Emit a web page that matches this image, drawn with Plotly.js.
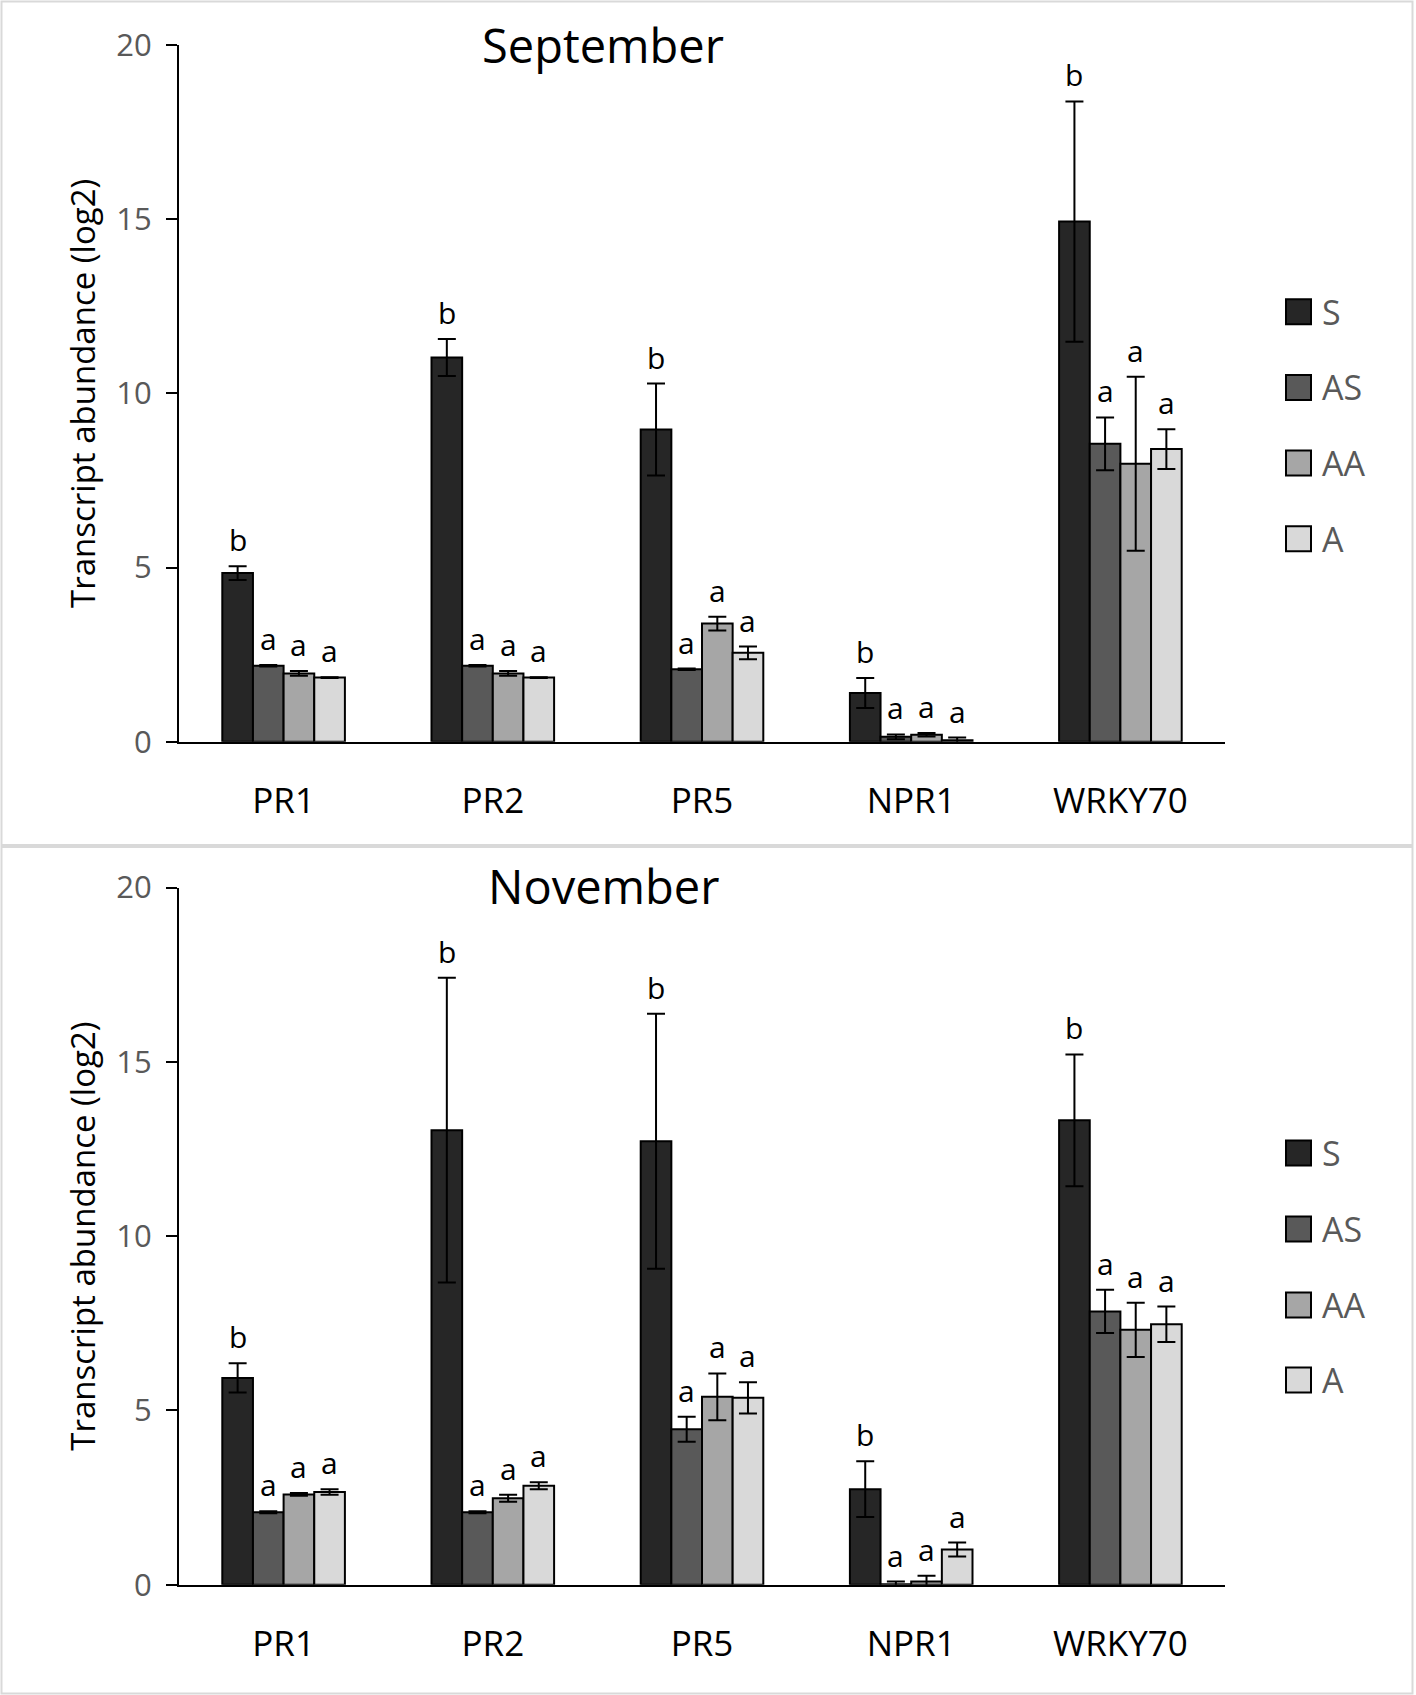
<!DOCTYPE html>
<html>
<head>
<meta charset="utf-8">
<script src="https://cdn.plot.ly/plotly-3.0.1.min.js"></script>
<style>html,body{margin:0;padding:0;background:#fff;}#chart{width:1416px;height:1695px;}</style>
</head>
<body>
<div id="chart"></div>
<script>
const categories = ['PR1', 'PR2', 'PR5', 'NPR1', 'WRKY70'];
const seriesNames = ['S', 'AS', 'AA', 'A'];
const seriesLetters = ['b', 'a', 'a', 'a'];
const panelTitles = ['September', 'November'];
const yTickVals = [0, 5, 10, 15, 20];

// September
const sepS = [4.84, 11.03, 8.96, 1.40, 14.93];
const sepS_err = [0.20, 0.53, 1.32, 0.43, 3.45];
const sepAS = [2.18, 2.18, 2.08, 0.14, 8.55];
const sepAS_err = [0.02, 0.02, 0.02, 0.07, 0.76];
const sepAA = [1.96, 1.96, 3.39, 0.20, 7.98];
const sepAA_err = [0.07, 0.07, 0.20, 0.05, 2.50];
const sepA = [1.84, 1.84, 2.55, 0.04, 8.40];
const sepA_err = [0.01, 0.01, 0.18, 0.08, 0.57];

// November
const novS = [5.93, 13.04, 12.72, 2.74, 13.32];
const novS_err = [0.42, 4.37, 3.66, 0.80, 1.89];
const novAS = [2.08, 2.08, 4.46, 0.01, 7.84];
const novAS_err = [0.03, 0.03, 0.36, 0.08, 0.62];
const novAA = [2.59, 2.48, 5.39, 0.09, 7.31];
const novAA_err = [0.04, 0.10, 0.67, 0.17, 0.78];
const novA = [2.66, 2.84, 5.36, 1.01, 7.47];
const novA_err = [0.08, 0.10, 0.45, 0.20, 0.51];

const colors = ['#262626', '#595959', '#a6a6a6', '#d9d9d9'];
const FONT = '"Open Sans", "Noto Sans", sans-serif';
const W = 1416, H = 1695;
const BARGAP = 0.414;

const panels = [
  { vals: [sepS, sepAS, sepAA, sepA], errs: [sepS_err, sepAS_err, sepAA_err, sepA_err], xa: 'x', ya: 'y' },
  { vals: [novS, novAS, novAA, novA], errs: [novS_err, novAS_err, novAA_err, novA_err], xa: 'x2', ya: 'y2' }
];

const xDomain = [179 / W, 1225 / W];
const yDomains = [[(H - 741.7) / H, (H - 45) / H], [(H - 1584.7) / H, (H - 887.5) / H]];
const catPx = (xDomain[1] - xDomain[0]) * W / categories.length;
const barPx = catPx * (1 - BARGAP) / seriesNames.length;

const traces = [];
const annotations = [];
const shapes = [];

panels.forEach((p, pi) => {
  seriesNames.forEach((name, si) => {
    traces.push({
      type: 'bar', name: name, x: categories, y: p.vals[si],
      xaxis: p.xa, yaxis: p.ya, showlegend: false,
      marker: { color: colors[si], line: { color: '#000', width: 2 } },
      error_y: { type: 'data', array: p.errs[si], visible: true, color: '#000', thickness: 2, width: 9 },
      hoverinfo: 'skip'
    });
    categories.forEach((c, ci) => {
      annotations.push({
        x: c, y: p.vals[si][ci] + p.errs[si][ci], xref: p.xa, yref: p.ya,
        text: seriesLetters[si], showarrow: false, yanchor: 'bottom',
        xshift: (si - (seriesNames.length - 1) / 2) * barPx, yshift: 4,
        font: { family: FONT, size: 30, color: '#000' }
      });
    });
  });
  // panel title
  annotations.push({
    x: 603 / W, y: pi === 0 ? (H - 45) / H : (H - 886) / H, xref: 'paper', yref: 'paper',
    text: panelTitles[pi], showarrow: false, xanchor: 'center', yanchor: 'middle',
    font: { family: FONT, size: 47, color: '#000' }
  });
  // legend (manual)
  const legendY = pi === 0 ? [311.7, 387.5, 463, 538.7] : [1153, 1229, 1305, 1380];
  seriesNames.forEach((name, si) => {
    const cy = legendY[si];
    shapes.push({
      type: 'rect', xref: 'paper', yref: 'paper',
      x0: 1286 / W, x1: 1311 / W, y0: (H - cy - 12.5) / H, y1: (H - cy + 12.5) / H,
      fillcolor: colors[si], line: { color: '#000', width: 2 }
    });
    annotations.push({
      x: 1320 / W, y: (H - cy) / H, xref: 'paper', yref: 'paper',
      text: name, showarrow: false, xanchor: 'left', yanchor: 'middle',
      font: { family: FONT, size: 34, color: '#595959' }
    });
  });
});

// panel frames
shapes.push({ type: 'rect', xref: 'paper', yref: 'paper', x0: 1.5 / W, x1: 1412.5 / W, y0: (H - 845) / H, y1: (H - 1.5) / H, line: { color: '#d9d9d9', width: 2 } });
shapes.push({ type: 'rect', xref: 'paper', yref: 'paper', x0: 1.5 / W, x1: 1412.5 / W, y0: 1.5 / H, y1: (H - 847) / H, line: { color: '#d9d9d9', width: 2 } });

function xaxis(anchor) {
  return {
    domain: xDomain, anchor: anchor, type: 'category',
    showline: true, linecolor: '#000', linewidth: 2, ticks: '', showgrid: false, zeroline: false,
    tickfont: { family: FONT, size: 35, color: '#000' }, ticklabelstandoff: 27, fixedrange: true
  };
}
function yaxis(anchor, dom) {
  return {
    domain: dom, anchor: anchor, range: [0, 20], tickvals: yTickVals, ticktext: yTickVals.map(String),
    showline: true, linecolor: '#000', linewidth: 2, ticks: 'outside', ticklen: 11, tickwidth: 2, tickcolor: '#000',
    showgrid: false, zeroline: false, ticklabelstandoff: 8,
    tickfont: { family: FONT, size: 31, color: '#595959' },
    title: { text: 'Transcript abundance (log2)', font: { family: FONT, size: 33, color: '#000' }, standoff: 11 },
    fixedrange: true
  };
}

const layout = {
  width: W, height: H, margin: { l: 0, r: 0, t: 0, b: 0 },
  paper_bgcolor: '#fff', plot_bgcolor: '#fff',
  barmode: 'group', bargap: BARGAP, bargroupgap: 0,
  showlegend: false,
  xaxis: xaxis('y'), yaxis: yaxis('x', yDomains[0]),
  xaxis2: xaxis('y2'), yaxis2: yaxis('x2', yDomains[1]),
  annotations: annotations, shapes: shapes,
  font: { family: FONT }
};

Plotly.newPlot('chart', traces, layout, { displayModeBar: false, staticPlot: true });
</script>
</body>
</html>
